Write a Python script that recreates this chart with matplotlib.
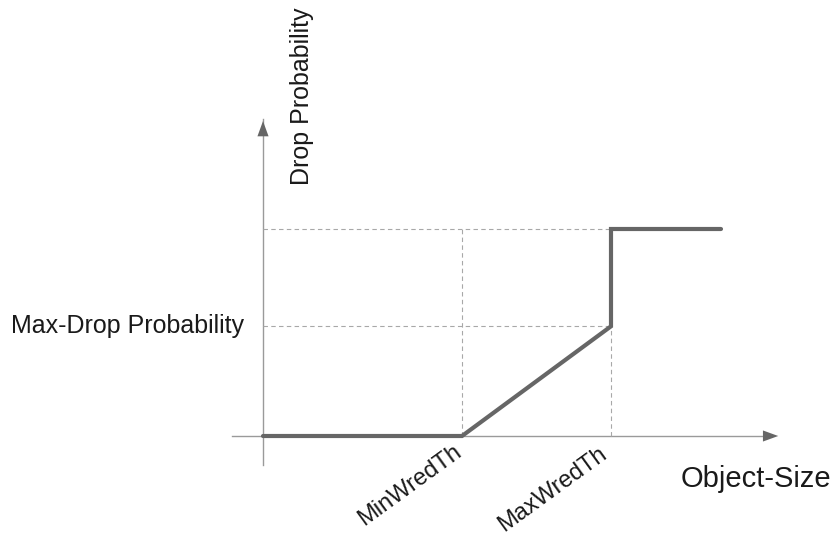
import matplotlib
matplotlib.use("Agg")
import matplotlib.pyplot as plt

# Data (abstract units)
curve_x = [0.0, 1.99, 3.48, 3.48, 4.58]
curve_y = [0.0, 0.0, 0.53, 1.0, 1.0]
min_th = 1.99
max_th = 3.48
max_drop = 0.53
full_drop = 1.0
x_label = "Object-Size"
y_label = "Drop Probability"
max_drop_label = "Max-Drop Probability"
tick_labels = ["MinWredTh", "MaxWredTh"]

plt.rcParams['font.family'] = ['Liberation Sans', 'DejaVu Sans']

fig = plt.figure(figsize=(8.33, 5.39), dpi=100)
ax = fig.add_axes([0, 0, 1, 1])
ax.set_xlim(-2.63, 5.70)
ax.set_ylim(-103/207, 436/207)
ax.axis('off')

axis_c = '#9a9a9a'
arrow_c = '#666666'
# axes lines
ax.plot([-0.31, 5.05], [0, 0], color=axis_c, lw=1.0, zorder=1)
ax.plot([0, 0], [-0.14, 1.53], color=axis_c, lw=1.0, zorder=1)
ax.annotate('', xy=(5.18, 0), xytext=(5.0, 0),
            arrowprops=dict(arrowstyle='-|>,head_length=1.1,head_width=0.4', color=arrow_c, lw=0))
ax.annotate('', xy=(0, 1.535), xytext=(0, 1.45),
            arrowprops=dict(arrowstyle='-|>,head_length=1.1,head_width=0.4', color=arrow_c, lw=0))

# guides
g = dict(color='#a8a8a8', lw=0.8, ls=(0, (4, 3)), zorder=1)
ax.plot([0, max_th], [full_drop, full_drop], **g)
ax.plot([0, max_th], [max_drop, max_drop], **g)
ax.plot([min_th, min_th], [0, full_drop], **g)
ax.plot([max_th, max_th], [0, max_drop], **g)

# curve
ax.plot(curve_x, curve_y, color='#666666', lw=3.0, solid_capstyle='round',
        solid_joinstyle='miter', zorder=3)

fs = 18
tc = '#1a1a1a'
ax.text(0.39, 1.64, y_label, rotation=90, ha='center', va='center', fontsize=fs, color=tc)
ax.text(-0.19, max_drop, max_drop_label, ha='right', va='center', fontsize=fs, color=tc)
ax.text(5.68, -0.21, x_label, ha='right', va='center', fontsize=21, color=tc)
ax.text(min_th - 0.09, -0.02, tick_labels[0], rotation=36, ha='right', va='top',
        rotation_mode='anchor', fontsize=17, color=tc)
ax.text(max_th - 0.13, -0.035, tick_labels[1], rotation=36, ha='right', va='top',
        rotation_mode='anchor', fontsize=17, color=tc)

fig.savefig('out.png', dpi=100)
